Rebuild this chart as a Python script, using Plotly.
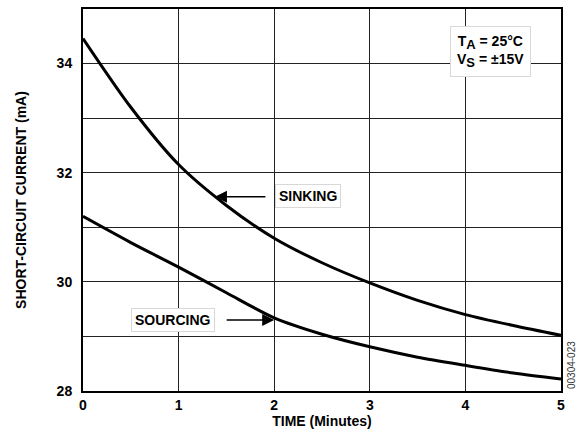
import plotly.graph_objects as go

time_min = [0, 0.5, 1, 1.5, 2, 2.5, 3, 3.5, 4, 4.5, 5]
sinking_ma = [34.46, 33.2, 32.15, 31.4, 30.8, 30.35, 29.98, 29.66, 29.4, 29.2, 29.02]
sourcing_ma = [31.2, 30.72, 30.27, 29.8, 29.34, 29.04, 28.81, 28.62, 28.47, 28.33, 28.22]

x_ticks = [0, 1, 2, 3, 4, 5]
y_ticks = [28, 30, 32, 34]

FONT = "Liberation Sans, Arial, sans-serif"

fig = go.Figure()
for ys in (sinking_ma, sourcing_ma):
    fig.add_trace(go.Scatter(x=time_min, y=ys, mode="lines",
                             line=dict(color="black", width=3, shape="spline", smoothing=0.8),
                             showlegend=False, hoverinfo="skip"))

fig.update_layout(
    width=578, height=438,
    margin=dict(l=83, r=17, t=7, b=47),
    paper_bgcolor="white", plot_bgcolor="white",
    font=dict(family=FONT, color="black", size=14),
    xaxis=dict(range=[0, 5], tickvals=x_ticks, showgrid=True, gridcolor="#222", gridwidth=1.3,
               zeroline=False, showline=True, linecolor="black", linewidth=2, mirror=True,
               ticks="", tickfont=dict(size=14, family=FONT, weight="bold"),
               title=dict(text="<b>TIME (Minutes)</b>", font=dict(size=14), standoff=4)),
    yaxis=dict(range=[28, 35], tickvals=y_ticks, showgrid=True, gridcolor="#222", gridwidth=1.3,
               minor=dict(dtick=1, tick0=28, showgrid=True, gridcolor="#222", gridwidth=1.3),
               zeroline=False, showline=True, linecolor="black", linewidth=2, mirror=True,
               ticks="", ticklabelstandoff=6, tickfont=dict(size=14, family=FONT, weight="bold"),
               title=dict(text="<b>SHORT-CIRCUIT CURRENT (mA)</b>", font=dict(size=14), standoff=27)),
)

label_font = dict(size=14, family=FONT, color="black", weight="bold")
fig.add_annotation(x=2.35, y=31.57, text="SINKING", showarrow=False, font=label_font,
                   bgcolor="white", bordercolor="#d8d8d8", borderwidth=1, borderpad=3)
fig.add_annotation(x=1.38, y=31.56, ax=52, ay=0, text="", showarrow=True, arrowhead=2,
                   arrowsize=1.6, arrowwidth=1.5, arrowcolor="black")
fig.add_annotation(x=0.94, y=29.31, text="SOURCING", showarrow=False, font=label_font,
                   bgcolor="white", bordercolor="#d8d8d8", borderwidth=1, borderpad=3)
fig.add_annotation(x=2.0, y=29.3, ax=-49, ay=0, text="", showarrow=True, arrowhead=2,
                   arrowsize=1.6, arrowwidth=1.5, arrowcolor="black")
fig.add_annotation(x=4.26, y=34.22,
                   text="T<sub><span style='font-size:13px'>A</span></sub> = 25°C<br>V<sub><span style='font-size:13px'>S</span></sub> = ±15V",
                   showarrow=False, font=label_font, align="center",
                   bgcolor="white", bordercolor="#d8d8d8", borderwidth=1, borderpad=6)
fig.add_annotation(xref="paper", yref="paper", x=1.0, y=0.068, xshift=10, text="00304-023",
                   textangle=-90, showarrow=False, font=dict(size=10, family=FONT, color="#333"),
                   xanchor="center", yanchor="middle")

fig.write_html("out.html", config={"displayModeBar": False},
               post_script="document.body.style.margin='0';")
